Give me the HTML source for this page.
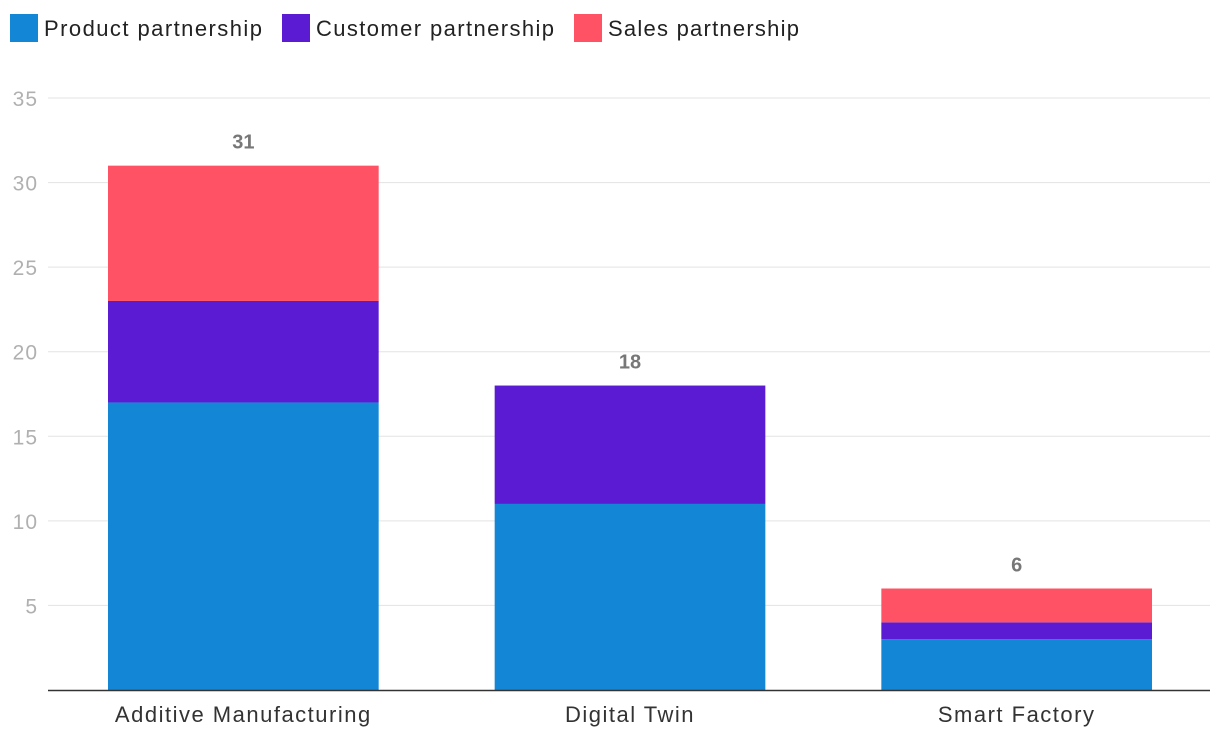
<!DOCTYPE html>
<html><head><meta charset="utf-8"><style>
body{margin:0;background:#fff;font-family:"Liberation Sans",sans-serif;}
svg text{font-family:"Liberation Sans",sans-serif;}
</style></head><body>
<svg width="1220" height="746">
<g id="legend">
<g><rect x="10" y="14" width="28" height="28" fill="#1387d6"/><text x="44" y="36" font-size="22" fill="#222" textLength="218" lengthAdjust="spacing">Product partnership</text></g>
<g><rect x="282" y="14" width="28" height="28" fill="#5b1bd3"/><text x="316" y="36" font-size="22" fill="#222" textLength="238" lengthAdjust="spacing">Customer partnership</text></g>
<g><rect x="574" y="14" width="28" height="28" fill="#ff5264"/><text x="608" y="36" font-size="22" fill="#222" textLength="191" lengthAdjust="spacing">Sales partnership</text></g>
</g>
<g id="grid"></g>
<g id="bars"></g>
<line x1="48" x2="1210" y1="690.5" y2="690.5" stroke="#333" stroke-width="1.5"/>
</svg>
<script>
const categories=["Additive Manufacturing","Digital Twin","Smart Factory"];
const product=[17,11,3];
const customer=[6,7,1];
const sales=[8,0,2];
const ticks=[5,10,15,20,25,30,35];
const colors=["#1387d6","#5b1bd3","#ff5264"];
const ns="http://www.w3.org/2000/svg";
const y0=690,pxPer=(690-98)/35,left=50,right=1210;
const band=(right-left)/categories.length,bw=band*0.7;
const y=v=>y0-v*pxPer;
const xc=i=>left+band*(i+0.5);
function mk(tag,attrs,parent){const e=document.createElementNS(ns,tag);for(const k in attrs)e.setAttribute(k,attrs[k]);parent.appendChild(e);return e;}
const grid=document.getElementById('grid');
ticks.forEach(t=>{
 const l=mk('line',{x1:48,x2:1210,y1:y(t),y2:y(t),stroke:'#e3e3e3','stroke-width':1},grid);
 
 
 const tx=mk('text',{x:38,y:y(t)+8,'text-anchor':'end','font-size':21,fill:'#b0b0b0','letter-spacing':1},grid);
 tx.textContent=t;
 
 
});
const bars=document.getElementById('bars');
categories.forEach((c,i)=>{
 let acc=0;
 [product,customer,sales].forEach((s,k)=>{
  const v=s[i];if(v<=0)return;
  const r=mk('rect',{x:xc(i)-bw/2,y:y(acc+v),width:bw,height:v*pxPer,fill:colors[k]},bars);
  
  
  acc+=v;
 });
 const tl=mk('text',{x:xc(i),y:y(acc)-17,'text-anchor':'middle','font-size':20,'font-weight':'bold',fill:'#777'},bars);
 tl.textContent=acc;
 
 
 const cl=mk('text',{x:xc(i),y:722,'text-anchor':'middle','font-size':22,fill:'#333','letter-spacing':1.5},bars);
 cl.textContent=c;
 
 
});
</script>
</body></html>
